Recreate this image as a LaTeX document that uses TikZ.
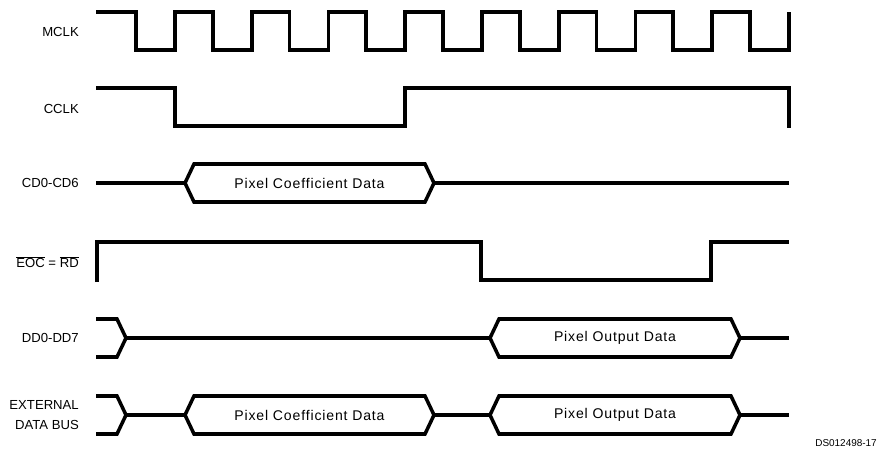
\documentclass[tikz,border=0pt]{standalone}
\usepackage{fontspec}
\setmainfont{Liberation Sans}
\newfontfamily\datafont[LetterSpace=6]{Liberation Sans}
\tikzset{
  sig/.style={line width=3pt,line join=miter},
  lbl/.style={anchor=east,inner sep=0pt,align=right,font=\fontsize{11.2}{17}\selectfont},
  dat/.style={inner sep=0pt,font=\datafont\fontsize{12}{14}\selectfont},
}
% bus value: name, left x, right x, mid y, text
\newcommand{\busval}[5]{%
  \draw[sig] (#2,#4) -- ({#2+9},{#4-19}) -- ({#3-9},{#4-19}) -- (#3,#4)
    -- ({#3-9},{#4+19}) -- ({#2+9},{#4+19}) -- cycle;
  \node[dat] (#1) at ({(#2+#3)/2},#4) {#5};
}
\begin{document}
\begin{tikzpicture}[x=0.03cm,y=-0.03cm]
  \useasboundingbox (0,0) rectangle (888,451);
  % signal names
  \node[lbl] (mclk) at (79,32) {MCLK};
  \node[lbl] (cclk) at (79,109) {CCLK};
  \node[lbl] (cd) at (79,183) {CD0-CD6};
  \node[lbl] (eoc) at (79,262) {$\overline{\mbox{EOC}}$ = $\overline{\mbox{RD}}$};
  \node[lbl] (dd) at (79,338) {DD0-DD7};
  \node[lbl] (ext) at (79,415) {EXTERNAL\\DATA BUS};
  % draw MCLK
  \draw[sig] (96,12) \foreach \k in {0,...,8} {
    -- ({136+76.75*\k},12) -- ({136+76.75*\k},50)
    -- ({175+76.75*\k},50) -- ({175+76.75*\k},12) };
  % draw CCLK
  \draw[sig] (96,88) -- (175,88) -- (175,126) -- (405,126) -- (405,88)
    -- (789,88) -- (789,128);
  % draw CD0-CD6
  \draw[sig] (96,183) -- (185,183);
  \busval{cdcoef}{185}{434}{183}{Pixel Coefficient Data}
  \draw[sig] (434,183) -- (789,183);
  % draw EOC = RD
  \draw[sig] (97,282) -- (97,242) -- (481,242) -- (481,280) -- (711,280)
    -- (711,242) -- (789,242);
  % draw DD0-DD7
  \draw[sig] (96,319) -- (117,319) -- (126,338) -- (117,357) -- (96,357);
  \draw[sig] (126,338) -- (490,338);
  \busval{ddout}{490}{740}{338}{Pixel Output Data}
  \draw[sig] (740,338) -- (789,338);
  % draw external data bus
  \draw[sig] (96,396) -- (117,396) -- (126,415) -- (117,434) -- (96,434);
  \draw[sig] (126,415) -- (185,415);
  \busval{extcoef}{185}{434}{415}{Pixel Coefficient Data}
  \draw[sig] (434,415) -- (490,415);
  \busval{extout}{490}{740}{415}{Pixel Output Data}
  \draw[sig] (740,415) -- (789,415);
  % figure number
  \node[anchor=east,inner sep=0pt,font=\fontsize{8.5}{10}\selectfont] (fig) at (877,443) {DS012498-17};
\end{tikzpicture}
\end{document}
